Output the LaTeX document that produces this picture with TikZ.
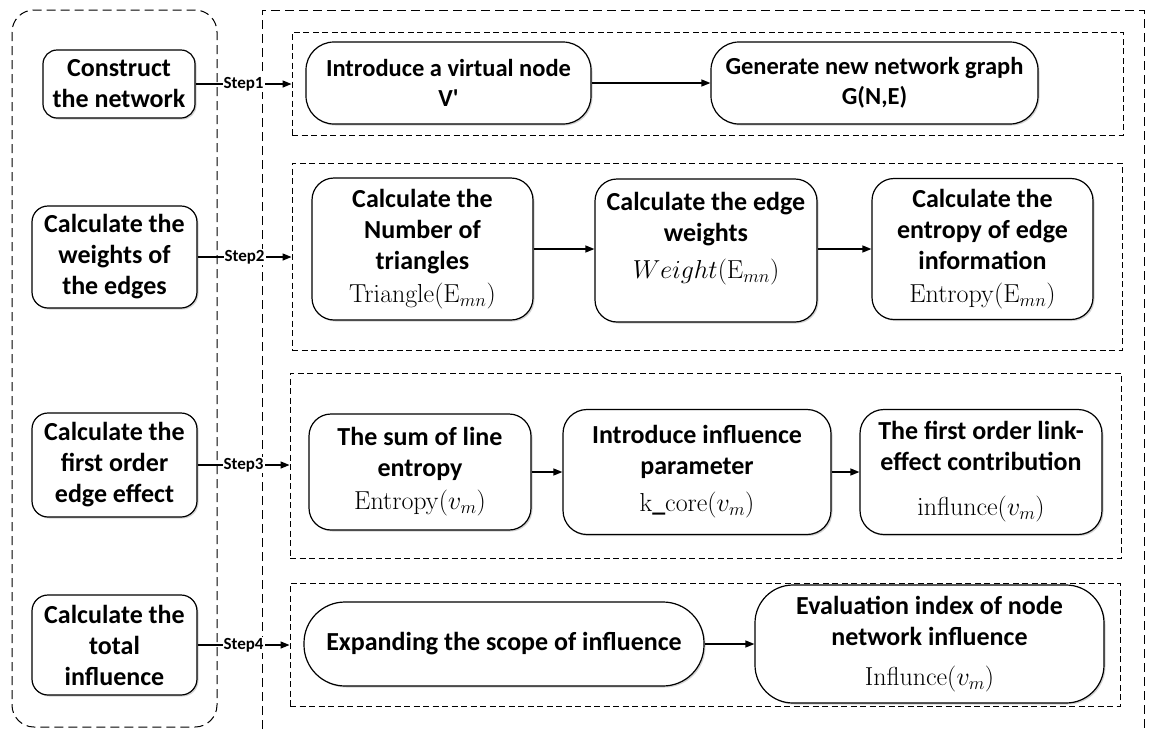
\RequirePackage{fix-cm}
\documentclass[tikz,border=0pt]{standalone}
\usepackage[no-math]{fontspec}
\setmainfont{Carlito}
\usetikzlibrary{arrows.meta,shadows}
\begin{document}
\begin{tikzpicture}[x=1pt,y=-1pt,
  box/.style={draw, line width=1.2pt, fill=white, align=center, inner sep=0pt,
    font=\bfseries\fontsize{26}{31}\selectfont,
    drop shadow={shadow xshift=1.5pt, shadow yshift=-1.5pt, fill=black!35, opacity=0.5}},
  rowbox/.style={draw, dash pattern=on 6pt off 3.5pt, line width=0.9pt, inner sep=0pt},
  outerdash/.style={draw, dash pattern=on 9pt off 5pt, line width=1pt},
  arr/.style={-{Triangle[length=9pt,width=7pt]}, line width=1.3pt},
  steplab/.style={fill=white, inner sep=1pt, font=\bfseries\fontsize{17}{17}\selectfont}
]
\useasboundingbox (0,0) rectangle (1149,729);
\fill[white] (0,0) rectangle (1149,729);

% outer frames
\draw[outerdash, rounded corners=22pt] (12,10) rectangle (217,727);
\draw[outerdash] (262,729) -- (262,10) -- (1144,10) -- (1144,729);

% row frames
\node[rowbox, minimum width=831pt, minimum height=103pt] (r1) at (707.5,83.5) {};
\node[rowbox, minimum width=830pt, minimum height=187pt] (r2) at (707,256.5) {};
\node[rowbox, minimum width=831pt, minimum height=185pt] (r3) at (705.5,465.5) {};
\node[rowbox, minimum width=830pt, minimum height=123pt] (r4) at (705,644.5) {};

% left step boxes
\node[box, minimum width=152pt, minimum height=68pt, rounded corners=14pt] (c1) at (119,84) {Construct\\the network};
\node[box, minimum width=165pt, minimum height=102pt, rounded corners=16pt] (c2) at (114.5,257) {Calculate the\\weights of\\the edges};
\node[box, minimum width=165pt, minimum height=104pt, rounded corners=16pt] (c3) at (114.5,465) {Calculate the\\first order\\edge effect};
\node[box, minimum width=165pt, minimum height=100pt, rounded corners=16pt] (c4) at (114.5,645) {Calculate the\\total\\influence};

% row 1
\node[box, font=\bfseries\fontsize{24.5}{30}\selectfont, minimum width=285pt, minimum height=82pt, rounded corners=28pt] (a1) at (448.5,83) {Introduce a virtual node\\V\textquotesingle};
\node[box, font=\bfseries\fontsize{24.5}{30}\selectfont, minimum width=327pt, minimum height=82pt, rounded corners=28pt] (a2) at (874.5,83) {Generate new network graph\\G(N,E)};

% row 2
\node[box, minimum width=221pt, minimum height=142pt, rounded corners=22pt] (b1) at (422.5,249) {Calculate the\\Number of\\triangles\\[2pt]$\mathrm{Triangle}(\mathrm{E}_{mn})$};
\node[box, minimum width=222pt, minimum height=143pt, rounded corners=22pt] (b2) at (706,250.5) {Calculate the edge\\weights\\[6pt]$Weight(\mathrm{E}_{mn})$\\ \mbox{}};
\node[box, minimum width=221pt, minimum height=141pt, rounded corners=22pt] (b3) at (982.5,249) {Calculate the\\entropy of edge\\information\\[2pt]$\mathrm{Entropy}(\mathrm{E}_{mn})$};

% row 3
\node[box, minimum width=222pt, minimum height=116pt, rounded corners=22pt] (d1) at (420,472) {The sum of line\\entropy\\[2pt]$\mathrm{Entropy}(v_m)$};
\node[box, minimum width=268pt, minimum height=125pt, rounded corners=24pt] (d2) at (697,472) {Introduce influence\\parameter\\[6pt]$\mathrm{k\_core}(v_m)$};
\node[box, minimum width=242pt, minimum height=125pt, rounded corners=24pt] (d3) at (981,472) {The first order link-\\effect contribution\\[14pt]$\mathrm{influnce}(v_m)$};

% row 4
\node[box, minimum width=400pt, minimum height=84pt, rounded corners=41pt] (e1) at (504,644) {Expanding the scope of influence};
\node[box, minimum width=349pt, minimum height=118pt, rounded corners=38pt] (e2) at (929.5,644) {Evaluation index of node\\network influence\\[9pt]$\mathrm{Influnce}(v_m)$};

% step arrows
\draw[arr] (c1.east) -- node[steplab]{Step1} (c1.east -| r1.west);
\draw[arr] (c2.east) -- node[steplab]{Step2} (c2.east -| r2.west);
\draw[arr] (c3.east) -- node[steplab]{Step3} (c3.east -| r3.west);
\draw[arr] (c4.east) -- node[steplab]{Step4} (c4.east -| r4.west);

% inner arrows
\draw[arr] (a1.east) -- (a1.east -| a2.west);
\draw[arr] (b1.east) -- (b1.east -| b2.west);
\draw[arr] (b2.east |- b3.east) -- (b3.east -| b3.west);
\draw[arr] (d1.east) -- (d1.east -| d2.west);
\draw[arr] (d2.east) -- (d2.east -| d3.west);
\draw[arr] (e1.east) -- (e1.east -| e2.west);
\end{tikzpicture}
\end{document}
